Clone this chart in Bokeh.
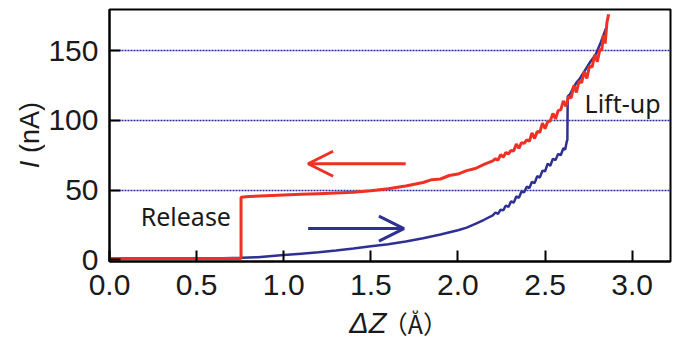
import math
from bokeh.plotting import figure
from bokeh.layouts import row, column
from bokeh.models import Range1d, FixedTicker, Label, Arrow, OpenHead
from bokeh.embed import file_html
from bokeh.resources import INLINE

# ---- data ----
red_x = [0.00, 0.10, 0.20, 0.30, 0.40, 0.50, 0.60, 0.70, 0.755, 0.755, 0.80, 0.90,
         1.00, 1.10, 1.20, 1.30, 1.40, 1.50, 1.60, 1.70, 1.80, 1.85, 1.90, 1.95,
         2.00, 2.05, 2.10, 2.15, 2.20, 2.215, 2.23, 2.245, 2.26, 2.275, 2.29, 2.305,
         2.32, 2.335, 2.35, 2.365, 2.38, 2.395, 2.41, 2.425, 2.44, 2.455, 2.47, 2.485,
         2.50, 2.515, 2.53, 2.545, 2.56, 2.575, 2.59, 2.605, 2.62, 2.635, 2.65, 2.665,
         2.68, 2.695, 2.71, 2.725, 2.74, 2.755, 2.77, 2.785, 2.80, 2.815, 2.825, 2.835,
         2.845, 2.855, 2.865]
red_y = [1.0, 1.0, 1.0, 1.0, 1.0, 1.0, 1.0, 1.0, 1.0, 45.0, 45.5, 46.0,
         46.5, 47.0, 47.5, 48.0, 48.5, 49.5, 51.0, 53.0, 55.5, 57.5, 58.0, 60.5,
         61.5, 64.0, 65.5, 68.5, 71.0, 72.5, 71.5, 75.5, 73.5, 77.0, 76.0, 78.5,
         78.0, 83.0, 80.0, 84.0, 83.5, 86.0, 85.0, 91.0, 87.0, 92.0, 91.5, 98.0,
         94.0, 99.0, 99.5, 105.0, 101.0, 107.0, 107.5, 114.0, 110.0, 117.0, 116.0, 125.0,
         120.0, 128.0, 127.0, 135.0, 130.0, 139.0, 138.0, 147.0, 142.0, 151.0, 150.0, 161.0,
         155.0, 170.0, 176.0]

blue_x = [0.00, 0.30, 0.60, 0.76, 0.85, 0.95, 1.00, 1.10, 1.20, 1.30, 1.40, 1.50,
          1.60, 1.70, 1.80, 1.90, 2.00, 2.05, 2.10, 2.15, 2.20, 2.215, 2.23, 2.245,
          2.26, 2.275, 2.29, 2.305, 2.32, 2.335, 2.35, 2.365, 2.38, 2.395, 2.41, 2.425,
          2.44, 2.455, 2.47, 2.485, 2.50, 2.515, 2.53, 2.545, 2.56, 2.575, 2.59, 2.605,
          2.615, 2.625, 2.628, 2.630, 2.645, 2.66, 2.68, 2.70, 2.73, 2.76, 2.79, 2.82, 2.85]
blue_y = [0.8, 0.8, 1.0, 1.5, 2.0, 3.0, 3.5, 4.5, 5.5, 6.8, 8.2, 9.8,
          11.3, 13.3, 15.5, 18.2, 21.3, 23.2, 25.8, 28.8, 32.0, 34.0, 33.0, 36.0,
          35.5, 39.0, 38.0, 42.0, 41.0, 45.5, 44.5, 49.0, 48.5, 52.5, 51.5, 56.0,
          55.0, 60.0, 59.0, 64.0, 63.5, 69.0, 67.5, 72.5, 71.5, 76.0, 75.0, 80.0,
          79.0, 85.0, 86.0, 117.0, 119.0, 123.0, 127.0, 130.0, 136.0, 142.0, 147.0, 156.0, 166.0]

x_ticks = [0.0, 0.5, 1.0, 1.5, 2.0, 2.5, 3.0]
y_ticks = [0, 50, 100, 150]
grid_ticks = [50, 100, 150]

RED = "#ee3124"
BLUE = "#2e3192"
INK = "#1a1a1a"

# ---- main plot ----
p = figure(width=628, height=310, output_backend="svg", toolbar_location=None,
           x_range=Range1d(0, 3.22), y_range=Range1d(-1.1, 179.4),
           min_border_left=62, min_border_right=3, min_border_top=9, min_border_bottom=49)
p.background_fill_color = "white"
p.border_fill_color = "white"
p.outline_line_color = "black"
p.outline_line_width = 2

p.xgrid.visible = False
p.ygrid.ticker = FixedTicker(ticks=grid_ticks)
p.ygrid.grid_line_color = "#2a2a9a"
p.ygrid.grid_line_dash = "2 1"
p.ygrid.grid_line_width = 1.4

for ax in (p.xaxis[0], p.yaxis[0]):
    ax.axis_line_color = "black"
    ax.axis_line_width = 2
    ax.major_tick_line_color = "black"
    ax.major_tick_line_width = 2
    ax.major_tick_in = 11
    ax.major_tick_out = 0
    ax.minor_tick_line_color = None
    ax.major_label_text_font = "Liberation Sans"
    ax.major_label_text_font_size = "30px"
    ax.major_label_text_color = INK

p.xaxis.ticker = FixedTicker(ticks=x_ticks)
p.xaxis.major_label_overrides = {t: f"{t:.1f}" for t in x_ticks}
p.xaxis.major_label_standoff = 13
p.yaxis.ticker = FixedTicker(ticks=y_ticks)
p.yaxis.major_label_standoff = 11

p.line(blue_x, blue_y, line_color=BLUE, line_width=2.5)
p.line(red_x, red_y, line_color=RED, line_width=3)

p.add_layout(Arrow(end=OpenHead(size=25, line_color=RED, line_width=3),
                   x_start=1.70, y_start=68.9, x_end=1.14, y_end=68.9,
                   line_color=RED, line_width=3))
p.add_layout(Arrow(end=OpenHead(size=25, line_color=BLUE, line_width=3),
                   x_start=1.14, y_start=22.5, x_end=1.69, y_end=22.5,
                   line_color=BLUE, line_width=3))

p.add_layout(Label(x=0.438, y=31.2, text="Release", text_align="center",
                   text_baseline="alphabetic", text_font="Noto Sans",
                   text_font_size="25px", text_color=INK))
p.add_layout(Label(x=2.945, y=112.4, text="Lift-up", text_align="center",
                   text_baseline="alphabetic", text_font="Noto Sans",
                   text_font_size="25px", text_color=INK))


def text_panel(w, h):
    f = figure(width=w, height=h, output_backend="svg", toolbar_location=None,
               x_range=Range1d(0, w), y_range=Range1d(h, 0),
               x_axis_type=None, y_axis_type=None, min_border=0)
    f.outline_line_color = None
    f.background_fill_color = "white"
    f.border_fill_color = "white"
    f.xgrid.visible = False
    f.ygrid.visible = False
    return f


# ---- x axis title panel (below the plot) ----
xl = text_panel(628, 28)
xl.add_layout(Label(x=310, y=12, text="ΔZ", text_align="right",
                    text_baseline="alphabetic", text_font="Liberation Sans",
                    text_font_style="italic", text_font_size="29px", text_color=INK))
xl.add_layout(Label(x=306, y=12, text="（Å）", text_align="left",
                    text_baseline="alphabetic", text_font="Noto Sans CJK JP",
                    text_font_size="25px", text_color=INK))

# ---- y axis title panel (left of the plot) ----
yl = text_panel(45, 310)
yl.add_layout(Label(x=29, y=164, text="I", text_align="center",
                    text_baseline="alphabetic", text_font="Liberation Sans",
                    text_font_style="italic", text_font_size="27px", text_color=INK,
                    angle=math.pi / 2))
yl.add_layout(Label(x=29, y=127, text="(nA)", text_align="center",
                    text_baseline="alphabetic", text_font="Liberation Sans",
                    text_font_size="27px", text_color=INK, angle=math.pi / 2))

layout = row(yl, column(p, xl))
open("out.html", "w").write(file_html(layout, INLINE))
